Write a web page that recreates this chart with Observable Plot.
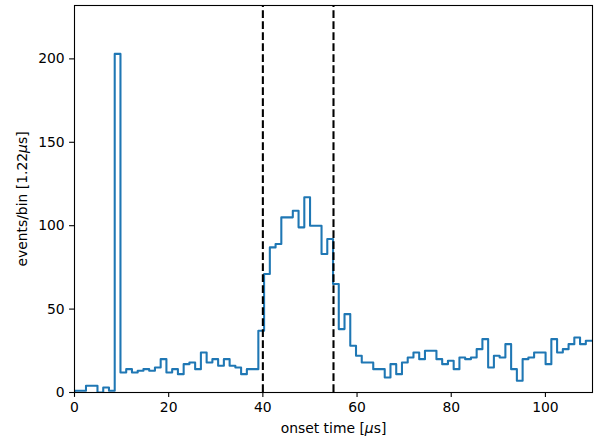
<!DOCTYPE html>
<html>
<head>
<meta charset="utf-8">
<script src="https://cdn.jsdelivr.net/npm/d3@7"></script>
<script src="https://cdn.jsdelivr.net/npm/@observablehq/plot@0.6"></script>
<style>
  body { margin: 0; background: #fff; }
  #chart svg { display: block; }
</style>
</head>
<body>
<div id="chart"></div>
<script>
// Histogram of onset times, 1.22 µs bins starting at 0
const binWidth = 1.22;
const counts = [
  1, 1, 4, 4, 0, 3, 1, 203, 12, 14,
  12, 13, 14, 13, 15, 20, 12, 14, 11, 17,
  18, 14, 24, 18, 20, 16, 20, 16, 15, 11,
  14, 14, 37, 71, 87, 89, 105, 105, 109, 99,
  117, 100, 100, 83, 92, 65, 38, 47, 28, 22,
  18, 18, 14, 14, 9, 17, 11, 18, 21, 24,
  20, 25, 25, 20, 17, 19, 14, 21, 20, 21,
  26, 32, 15, 22, 21, 29, 14, 7, 20, 21,
  24, 24, 17, 32, 24, 26, 29, 33, 29, 31,
  31
];

// Window boundaries (µs)
const markers = [40, 55];

const xTicks = [0, 20, 40, 60, 80, 100];
const yTicks = [0, 50, 100, 150, 200];
const xDomain = [0, 110];
const yDomain = [0, 232];
const xLabel = "onset time [μs]";
const yLabel = "events/bin [1.22μs]";

// Step outline: rise from zero at the first edge, one point per bin edge,
// then drop back to zero after the last bin.
const nBins = counts.length;
const outline = [{x: 0, y: 0}]
  .concat(counts.map((c, i) => ({x: i * binWidth, y: c})))
  .concat([{x: nBins * binWidth, y: counts[nBins - 1]}, {x: nBins * binWidth, y: 0}]);

const chart = Plot.plot({
  width: 598,
  height: 443,
  marginLeft: 74,
  marginRight: 6,
  marginTop: 5,
  marginBottom: 51,
  style: {fontFamily: "DejaVu Sans", fontSize: "13.9px", color: "black", background: "white"},
  x: {domain: xDomain},
  y: {domain: yDomain},
  marks: [
    Plot.line(outline, {x: "x", y: "y", curve: "step-after", stroke: "#1f77b4", strokeWidth: 2.08, clip: true}),
    Plot.ruleX(markers, {x: d => d, y1: yDomain[0], y2: yDomain[1], stroke: "black", strokeWidth: 2.08, strokeDasharray: "7.7,3.3"}),
    Plot.frame({stroke: "black", strokeWidth: 1.1}),
    Plot.axisX({ticks: xTicks, tickSize: 4.9, tickPadding: 4.9, label: null, strokeWidth: 1.1}),
    Plot.axisY({ticks: yTicks, tickSize: 4.9, tickPadding: 4.9, label: null, strokeWidth: 1.1}),
    Plot.text([xLabel], {text: d => d, frameAnchor: "bottom", dy: 36, lineAnchor: "middle", textAnchor: "middle", fill: "black"}),
    Plot.text([yLabel], {text: d => d, frameAnchor: "left", dx: -52, rotate: -90, lineAnchor: "middle", textAnchor: "middle", fill: "black"})
  ]
});

document.getElementById("chart").appendChild(chart);

// Set the µ symbol in italics, as in math notation
d3.select(chart).selectAll("text").each(function () {
  const t = this.textContent;
  if (!t.includes("μ")) return;
  const el = d3.select(this);
  el.text(null);
  t.split(/(μ)/).forEach(part => {
    if (!part) return;
    const span = el.append("tspan").text(part);
    if (part === "μ") span.attr("font-style", "italic");
  });
});
</script>
</body>
</html>
